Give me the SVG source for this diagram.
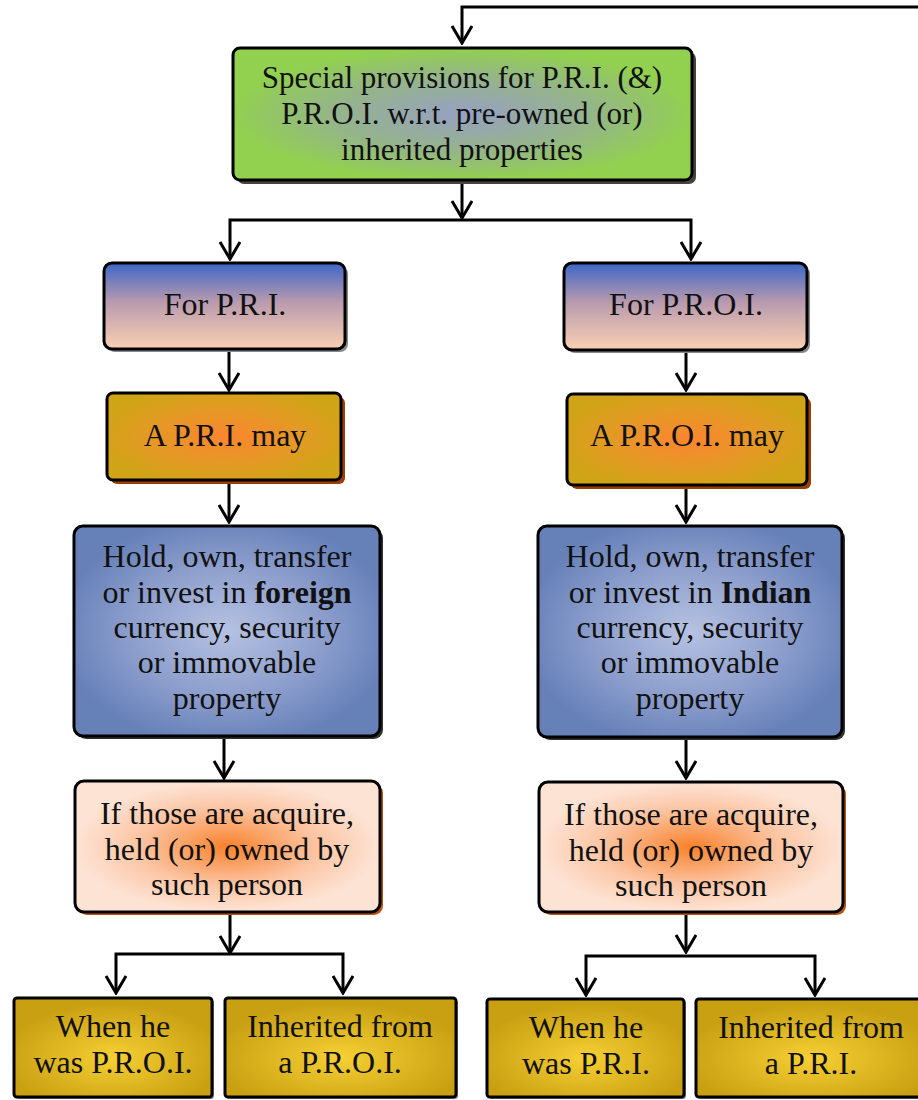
<svg xmlns="http://www.w3.org/2000/svg" width="918" height="1100" viewBox="0 0 918 1100">
  <defs>
    <radialGradient id="gGreen" cx="50%" cy="50%" r="50%">
      <stop offset="0" stop-color="#97a0c4"/>
      <stop offset="0.55" stop-color="#95b48a"/>
      <stop offset="1" stop-color="#92d050"/>
    </radialGradient>
    <linearGradient id="gFor" x1="0" y1="0" x2="0" y2="1">
      <stop offset="0" stop-color="#3f66c6"/>
      <stop offset="0.45" stop-color="#b89aae"/>
      <stop offset="1" stop-color="#fbd0b2"/>
    </linearGradient>
    <radialGradient id="gMay" cx="50%" cy="50%" r="55%">
      <stop offset="0" stop-color="#fb8530"/>
      <stop offset="0.6" stop-color="#e39a24"/>
      <stop offset="1" stop-color="#d0a416"/>
    </radialGradient>
    <radialGradient id="gHold" cx="50%" cy="50%" r="55%">
      <stop offset="0" stop-color="#b6c2e2"/>
      <stop offset="0.6" stop-color="#8a9ccb"/>
      <stop offset="1" stop-color="#6680b8"/>
    </radialGradient>
    <radialGradient id="gIf" cx="50%" cy="50%" r="50%">
      <stop offset="0" stop-color="#f9822c"/>
      <stop offset="0.6" stop-color="#fcc6a6"/>
      <stop offset="1" stop-color="#fde3d4"/>
    </radialGradient>
    <radialGradient id="gGold" cx="50%" cy="60%" r="55%">
      <stop offset="0" stop-color="#f6d034"/>
      <stop offset="1" stop-color="#c9a012"/>
    </radialGradient>
    <!-- open V arrowhead, drawn along +x so orient="auto" follows the line -->
    <marker id="arr" viewBox="0 0 20 22" refX="18" refY="11" markerWidth="20" markerHeight="22" markerUnits="userSpaceOnUse" orient="auto">
      <polyline points="1,1 18,11 1,21" fill="none" stroke="#000" stroke-width="3"/>
    </marker>
  </defs>
  <style>
    .box { stroke: #000; stroke-width: 3; }
    .sh { stroke: none; }
    .t { font-family: "Liberation Serif", "Times New Roman", serif; font-size: 32px; fill: #111; text-anchor: middle; }
    .top { font-size: 31px; }
    .b { font-weight: bold; }
    .la { fill: none; stroke: #000; stroke-width: 3; marker-end: url(#arr); }
  </style>

  <rect width="918" height="1100" fill="#fff"/>

  <!-- connectors -->
  <g id="connectors">
    <path class="la" d="M918,7 H462 V43"/>
    <path class="la" d="M462,181 V218"/>
    <path class="la" d="M462,220 H230 V259"/>
    <path class="la" d="M462,220 H691 V259"/>
    <path class="la" d="M229,349 V390"/>
    <path class="la" d="M229,481 V522"/>
    <path class="la" d="M224,737 V778"/>
    <path class="la" d="M230,913 V953"/>
    <path class="la" d="M230,954 H116 V993"/>
    <path class="la" d="M230,954 H343 V993"/>
    <path class="la" d="M686,350 V390"/>
    <path class="la" d="M686,486 V522"/>
    <path class="la" d="M686,738 V778"/>
    <path class="la" d="M686,913 V952"/>
    <path class="la" d="M686,956 H586 V995"/>
    <path class="la" d="M686,956 H815 V995"/>
  </g>

  <!-- top node -->
  <g id="n-special">
    <rect class="sh" x="237" y="52" width="459" height="132" rx="7" fill="#444"/>
    <rect class="box" x="233" y="48" width="459" height="132" rx="7" fill="url(#gGreen)"/>
    <text class="t top" x="462" y="88">Special provisions for P.R.I. (&amp;)</text>
    <text class="t top" x="462" y="124">P.R.O.I. w.r.t. pre-owned (or)</text>
    <text class="t top" x="462" y="160">inherited properties</text>
  </g>

  <!-- left column -->
  <g id="n-for-pri">
    <rect class="sh" x="107" y="266" width="241" height="86" rx="8" fill="#888"/>
    <rect class="box" x="104" y="263" width="241" height="86" rx="8" fill="url(#gFor)"/>
    <text class="t" x="225" y="315">For P.R.I.</text>
  </g>
  <g id="n-pri-may">
    <rect class="sh" x="111" y="397" width="234" height="87" rx="6" fill="#9c3e04"/>
    <rect class="box" x="107" y="393" width="234" height="87" rx="6" fill="url(#gMay)"/>
    <text class="t" x="225" y="446">A P.R.I. may</text>
  </g>
  <g id="n-hold-foreign">
    <rect class="sh" x="77" y="529" width="306" height="210" rx="9" fill="#333"/>
    <rect class="box" x="74" y="526" width="306" height="210" rx="9" fill="url(#gHold)"/>
    <text class="t" x="227" y="567">Hold, own, transfer</text>
    <text class="t" x="227" y="603">or invest in <tspan class="b">foreign</tspan></text>
    <text class="t" x="227" y="638">currency, security</text>
    <text class="t" x="227" y="673">or immovable</text>
    <text class="t" x="227" y="709">property</text>
  </g>
  <g id="n-if-left">
    <rect class="sh" x="78" y="784" width="305" height="131" rx="9" fill="#b85410"/>
    <rect class="box" x="75" y="781" width="305" height="131" rx="9" fill="url(#gIf)"/>
    <text class="t" x="227" y="824">If those are acquire,</text>
    <text class="t" x="227" y="860">held (or) owned by</text>
    <text class="t" x="227" y="895">such person</text>
  </g>
  <g id="n-when-proi">
    <rect class="sh" x="16" y="1000" width="198" height="99" rx="3" fill="#888"/>
    <rect class="box" x="14" y="998" width="198" height="99" rx="3" fill="url(#gGold)"/>
    <text class="t" x="113" y="1037">When he</text>
    <text class="t" x="113" y="1073">was P.R.O.I.</text>
  </g>
  <g id="n-inh-proi">
    <rect class="sh" x="227" y="1000" width="231" height="99" rx="3" fill="#888"/>
    <rect class="box" x="225" y="998" width="231" height="99" rx="3" fill="url(#gGold)"/>
    <text class="t" x="340" y="1037">Inherited from</text>
    <text class="t" x="340" y="1073">a P.R.O.I.</text>
  </g>

  <!-- right column -->
  <g id="n-for-proi">
    <rect class="sh" x="567" y="266" width="243" height="87" rx="8" fill="#888"/>
    <rect class="box" x="564" y="263" width="243" height="87" rx="8" fill="url(#gFor)"/>
    <text class="t" x="686" y="315">For P.R.O.I.</text>
  </g>
  <g id="n-proi-may">
    <rect class="sh" x="571" y="398" width="240" height="91" rx="6" fill="#9c3e04"/>
    <rect class="box" x="567" y="394" width="240" height="91" rx="6" fill="url(#gMay)"/>
    <text class="t" x="687" y="446">A P.R.O.I. may</text>
  </g>
  <g id="n-hold-indian">
    <rect class="sh" x="541" y="529" width="304" height="211" rx="9" fill="#333"/>
    <rect class="box" x="538" y="526" width="304" height="211" rx="9" fill="url(#gHold)"/>
    <text class="t" x="690" y="567">Hold, own, transfer</text>
    <text class="t" x="690" y="603">or invest in <tspan class="b">Indian</tspan></text>
    <text class="t" x="690" y="638">currency, security</text>
    <text class="t" x="690" y="673">or immovable</text>
    <text class="t" x="690" y="709">property</text>
  </g>
  <g id="n-if-right">
    <rect class="sh" x="542" y="785" width="304" height="130" rx="9" fill="#b85410"/>
    <rect class="box" x="539" y="782" width="304" height="130" rx="9" fill="url(#gIf)"/>
    <text class="t" x="691" y="825">If those are acquire,</text>
    <text class="t" x="691" y="861">held (or) owned by</text>
    <text class="t" x="691" y="896">such person</text>
  </g>
  <g id="n-when-pri">
    <rect class="sh" x="489" y="1001" width="197" height="98" rx="3" fill="#888"/>
    <rect class="box" x="487" y="999" width="197" height="98" rx="3" fill="url(#gGold)"/>
    <text class="t" x="586" y="1038">When he</text>
    <text class="t" x="586" y="1074">was P.R.I.</text>
  </g>
  <g id="n-inh-pri">
    <rect class="sh" x="698" y="1001" width="230" height="98" rx="3" fill="#888"/>
    <rect class="box" x="696" y="999" width="230" height="98" rx="3" fill="url(#gGold)"/>
    <text class="t" x="811" y="1038">Inherited from</text>
    <text class="t" x="811" y="1074">a P.R.I.</text>
  </g>
</svg>
